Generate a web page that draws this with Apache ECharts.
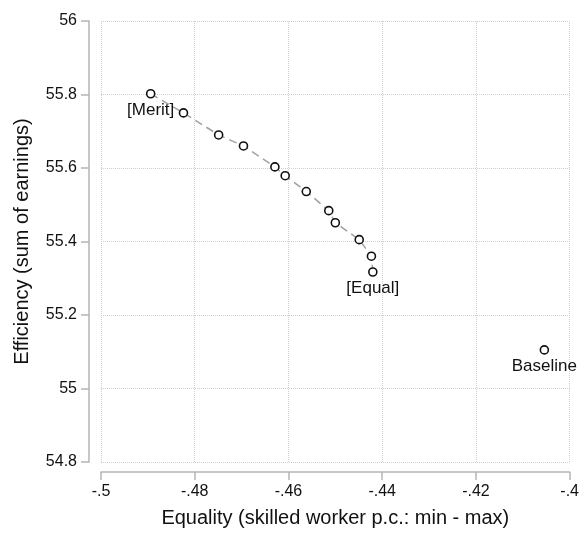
<!DOCTYPE html>
<html><head><meta charset="utf-8">
<script src="https://cdn.jsdelivr.net/npm/echarts@6/dist/echarts.min.js"></script>
<style>html,body{margin:0;padding:0;background:#fff}#c{width:582px;height:533px}</style>
</head><body><div id="c"></div>
<script>
var frontierX = [-0.4894, -0.4824, -0.4749, -0.4696, -0.4629, -0.4607, -0.4562, -0.4514, -0.4500, -0.4449, -0.4423, -0.4420];
var frontierY = [55.802, 55.750, 55.690, 55.660, 55.603, 55.579, 55.536, 55.484, 55.451, 55.405, 55.360, 55.317];
var frontierLabels = ['[Merit]', '', '', '', '', '', '', '', '', '', '', '[Equal]'];
var baselineX = [-0.4054];
var baselineY = [55.105];
var baselineLabels = ['Baseline'];
var xTicks = [-0.5, -0.48, -0.46, -0.44, -0.42, -0.4];
var xTickLabels = ['-.5', '-.48', '-.46', '-.44', '-.42', '-.4'];
var yTicks = [54.8, 55, 55.2, 55.4, 55.6, 55.8, 56];
var yTickLabels = ['54.8', '55', '55.2', '55.4', '55.6', '55.8', '56'];
var xTitle = 'Equality (skilled worker p.c.: min - max)';
var yTitle = 'Efficiency (sum of earnings)';

function lookup(ticks, labels, v) {
  for (var i = 0; i < ticks.length; i++) if (Math.abs(ticks[i] - v) < 1e-6) return labels[i];
  return '';
}
function build(xs, ys, labels) {
  return xs.map(function (x, i) {
    var d = { value: [x, ys[i]] };
    if (labels[i]) d.label = { show: true, formatter: labels[i] };
    return d;
  });
}
var font = 'Liberation Sans, Arial, Helvetica, sans-serif';
var chart = echarts.init(document.getElementById('c'), null, { renderer: 'canvas' });
var markerStyle = { color: '#fff', borderColor: '#111', borderWidth: 1.6, opacity: 1 };
var labelStyle = { position: 'bottom', distance: 3, fontSize: 17, color: '#111', fontFamily: font };
chart.setOption({
  animation: false,
  backgroundColor: '#fff',
  grid: { left: 101, right: 10, top: 21, bottom: 70, containLabel: false },
  xAxis: {
    type: 'value', min: -0.5, max: -0.4, interval: 0.02, offset: 10,
    name: xTitle, nameLocation: 'middle', nameGap: 36,
    nameTextStyle: { fontSize: 20, color: '#111', fontFamily: font },
    axisLine: { show: true, onZero: false, lineStyle: { color: '#b5b5b5', width: 1.5 } },
    axisTick: { show: true, length: 8, lineStyle: { color: '#b5b5b5', width: 1.5 } },
    axisLabel: { margin: 12, fontSize: 16, color: '#111', fontFamily: font, showMinLabel: true, showMaxLabel: true,
      formatter: function (v) { return lookup(xTicks, xTickLabels, v); } },
    splitLine: { show: true, lineStyle: { type: 'dotted', color: '#cfcfcf', width: 1 } }
  },
  yAxis: {
    type: 'value', min: 54.8, max: 56, interval: 0.2, offset: 12,
    name: yTitle, nameLocation: 'middle', nameGap: 57, nameRotate: 90,
    nameTextStyle: { fontSize: 20, color: '#111', fontFamily: font },
    axisLine: { show: true, onZero: false, lineStyle: { color: '#b5b5b5', width: 1.5 } },
    axisTick: { show: true, length: 8, lineStyle: { color: '#b5b5b5', width: 1.5 } },
    axisLabel: { margin: 12, fontSize: 16, color: '#111', fontFamily: font, showMinLabel: true, showMaxLabel: true,
      formatter: function (v) { return lookup(yTicks, yTickLabels, v); } },
    splitLine: { show: true, lineStyle: { type: 'dotted', color: '#cfcfcf', width: 1 } }
  },
  series: [
    {
      type: 'line', data: build(frontierX, frontierY, frontierLabels),
      symbol: 'circle', symbolSize: 8, showAllSymbol: true,
      lineStyle: { color: '#a0a0a0', width: 1.5, type: [8, 5] },
      itemStyle: markerStyle, label: labelStyle, z: 3
    },
    {
      type: 'scatter', data: build(baselineX, baselineY, baselineLabels),
      symbol: 'circle', symbolSize: 8,
      itemStyle: markerStyle, label: labelStyle, z: 3
    }
  ]
});
</script></body></html>
